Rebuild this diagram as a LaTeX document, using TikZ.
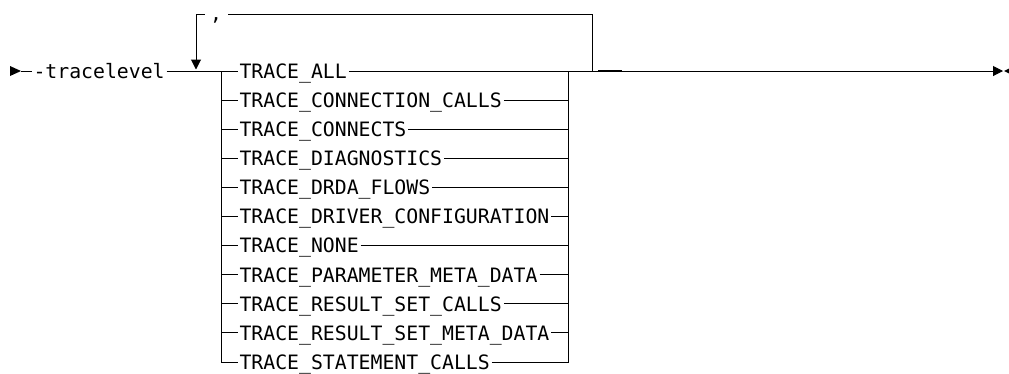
\documentclass[tikz,border=0pt]{standalone}
\usepackage{fontspec}
\newfontfamily\railfont{DejaVu Sans Mono}
\usetikzlibrary{arrows.meta,calc}
\begin{document}
\begin{tikzpicture}[x=1pt,y=-1pt,line width=1pt,
  kw/.style={font={\railfont\fontsize{19.8}{24}\selectfont},inner sep=1.5pt,text height=15pt,text depth=0.4pt,anchor=west},
  tip/.style={-{Triangle[length=10pt,width=10pt]}}]
  \useasboundingbox (0,0) rectangle (1009,373);
  \coordinate (start) at (21,71);
  \coordinate (split) at (221,71);
  \coordinate (join) at (568,71);
  \coordinate (loop) at (592,71);
  \coordinate (back) at (196,69.5);
  \coordinate (stop) at (1003,71);
  \fill (10,66) -- (start) -- (10,76) -- cycle;
  \node[kw] (cmd) at (31.5,71) {-tracelevel};
  \foreach \i/\word in {
    1/TRACE\_ALL,
    2/TRACE\_CONNECTION\_CALLS,
    3/TRACE\_CONNECTS,
    4/TRACE\_DIAGNOSTICS,
    5/TRACE\_DRDA\_FLOWS,
    6/TRACE\_DRIVER\_CONFIGURATION,
    7/TRACE\_NONE,
    8/TRACE\_PARAMETER\_META\_DATA,
    9/TRACE\_RESULT\_SET\_CALLS,
    10/TRACE\_RESULT\_SET\_META\_DATA,
    11/TRACE\_STATEMENT\_CALLS}
  {
    \node[kw] (opt\i) at (237.5,{71+29.1*(\i-1)}) {\word};
    \draw (split |- opt\i.west) -- (opt\i.west);
    \draw (opt\i.east) -- (join |- opt\i.east);
  }
  \draw (start) -- (cmd.west);
  \draw (cmd.east) -- (split);
  \draw (opt11.west) -| (split);
  \draw (opt11.east) -| (join);
  \draw[tip] (join) -- (stop);
  \fill (1004,71) -- (1009,68.5) -- (1009,73.5) -- cycle;
  \node[inner sep=0pt,minimum width=22pt,font={\railfont\fontsize{19.8}{24}\selectfont}] (sep) at (216,14) {\raisebox{-6pt}[0pt][0pt]{,}};
  \draw (loop) |- (sep.east);
  \draw[tip] (sep.west) -| (back);
  \draw[line width=2.2pt] ($(loop)+(6,0)$) -- ++(24,0);
\end{tikzpicture}
\end{document}
